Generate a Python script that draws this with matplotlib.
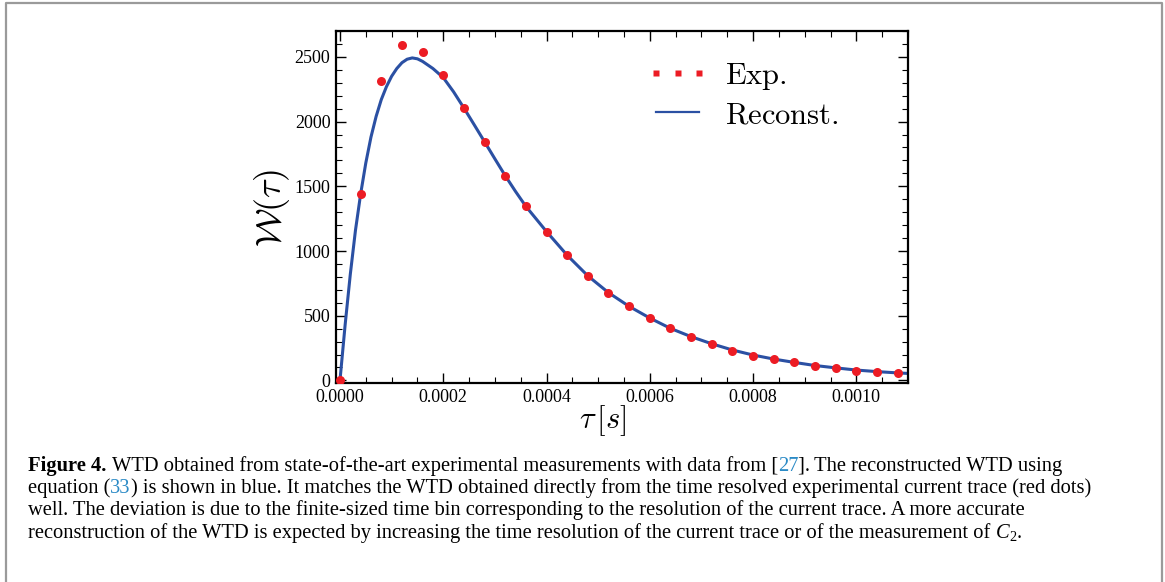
import numpy as np
import matplotlib.pyplot as plt
from matplotlib.lines import Line2D
from matplotlib.ticker import MultipleLocator, FormatStrFormatter
from matplotlib.font_manager import FontProperties

plt.rcParams['mathtext.fontset'] = 'cm'
plt.rcParams['font.family'] = 'Liberation Serif'

# experimental WTD (red dots)
t_exp = [0.0, 0.00004, 0.00008, 0.00012, 0.00016, 0.00020, 0.00024, 0.00028,
         0.00032, 0.00036, 0.00040, 0.00044, 0.00048, 0.00052, 0.00056, 0.00060,
         0.00064, 0.00068, 0.00072, 0.00076, 0.00080, 0.00084, 0.00088, 0.00092,
         0.00096, 0.00100, 0.00104, 0.00108]
w_exp = [0, 1438, 2315, 2592, 2538, 2357, 2105, 1844,
         1582, 1347, 1149, 967, 808, 678, 575, 482,
         403, 338, 285, 231, 192, 165, 139, 113,
         98, 75, 62, 60]

# reconstructed WTD (blue line)
t_rec = [0.0, 0.00001, 0.00002, 0.00003, 0.00004, 0.00005, 0.00006, 0.00007,
         0.00008, 0.00009, 0.00010, 0.00011, 0.00012, 0.00013, 0.00014, 0.00015,
         0.00016, 0.00018, 0.00020, 0.00022, 0.00024, 0.00026, 0.00028, 0.00030,
         0.00032, 0.00034, 0.00036, 0.00040, 0.00044, 0.00048, 0.00052, 0.00056,
         0.00060, 0.00064, 0.00068, 0.00072, 0.00076, 0.00080, 0.00084, 0.00088,
         0.00092, 0.00096, 0.00100, 0.00104, 0.00108, 0.00110]
w_rec = [0, 430, 820, 1160, 1440, 1680, 1880, 2040,
         2170, 2270, 2350, 2410, 2455, 2482, 2492, 2485,
         2465, 2410, 2340, 2230, 2105, 1975, 1844, 1712,
         1582, 1460, 1345, 1150, 967, 808, 678, 572,
         482, 402, 338, 283, 235, 196, 165, 139,
         115, 97, 80, 68, 58, 54]

W, H = 1165, 582
fig = plt.figure(figsize=(W / 100, H / 100), dpi=100)

# frame around the whole figure
fig.add_artist(Line2D([6 / W, 6 / W, 1162 / W, 1162 / W], [0, 1 - 3 / H, 1 - 3 / H, 0],
                      transform=fig.transFigure, color='#9a9a9a', lw=1.6))

ax = fig.add_axes([336 / W, 1 - 383 / H, (908 - 336) / W, (383 - 31) / H])
ax.plot(t_rec, w_rec, color='#2b50a3', lw=2.2, zorder=2)
ax.plot(t_exp, w_exp, 'o', color='#ec1c24', ms=6.5, mec='none', zorder=3)

ax.set_xlim(-0.0000077, 0.0011)
ax.set_ylim(-20, 2700)
ax.xaxis.set_major_locator(MultipleLocator(0.0002))
ax.xaxis.set_minor_locator(MultipleLocator(0.00005))
ax.yaxis.set_major_locator(MultipleLocator(500))
ax.yaxis.set_minor_locator(MultipleLocator(100))
ax.xaxis.set_major_formatter(FormatStrFormatter('%.4f'))
ax.yaxis.set_major_formatter(FormatStrFormatter('%d'))
ax.tick_params(which='both', direction='in', top=True, right=True, labelsize=13, pad=4)
ax.tick_params(which='major', length=7, width=1)
ax.tick_params(which='minor', length=4, width=0.8)
for sp in ax.spines.values():
    sp.set_linewidth(1.6)

fig.text(603 / W, 1 - 428 / H, r'$\tau\,[s]$', fontsize=22, ha='center', va='baseline')
fig.text(272 / W, 1 - 208 / H, r'$\mathcal{W}(\tau)$', fontsize=26, ha='center', va='center',
         rotation=90)

# legend
h_exp = Line2D([], [], marker='s', ls='none', color='#ec1c24', ms=4, mec='none')
h_rec = Line2D([], [], color='#2b50a3', lw=1.6)
ax.legend([h_exp, h_rec], [r'$\mathrm{Exp.}$', r'$\mathrm{Reconst.}$'], numpoints=3,
          loc='upper left', bbox_to_anchor=(647 / W, 1 - 61 / H), bbox_transform=fig.transFigure,
          frameon=False, fontsize=22, handlelength=2.0, handletextpad=0.55,
          labelspacing=0.3, borderpad=0, borderaxespad=0)

# caption
renderer = fig.canvas.get_renderer()
cap_fs = 14.8
fp_n = FontProperties(family='Liberation Serif', size=cap_fs)
fp_b = FontProperties(family='Liberation Serif', size=cap_fs, weight='bold')
fp_i = FontProperties(family='Liberation Serif', size=cap_fs, style='italic')
fp_s = FontProperties(family='Liberation Serif', size=cap_fs * 0.7)
link = '#2a8ac6'


def width(s, fp):
    w1 = renderer.get_text_width_height_descent(s + '|', fp, ismath=False)[0]
    w2 = renderer.get_text_width_height_descent('|', fp, ismath=False)[0]
    return w1 - w2


def draw_line(segments, y):
    x = 28
    for s, fp, color, dy in segments:
        fig.text(x / W, 1 - (y + dy) / H, s, fontproperties=fp, color=color,
                 ha='left', va='baseline')
        x += width(s, fp)


lines = [
    [('Figure 4. ', fp_b, 'black', 0),
     ('WTD obtained from state-of-the-art experimental measurements with data from [', fp_n, 'black', 0),
     ('27', fp_n, link, 0),
     ('].\u2009The reconstructed WTD using', fp_n, 'black', 0)],
    [('equation (', fp_n, 'black', 0),
     ('33', fp_n, link, 0),
     (') is shown in blue. It matches the WTD obtained directly from the time resolved '
      'experimental current trace (red dots)', fp_n, 'black', 0)],
    [('well. The deviation is due to the finite-sized time bin corresponding to the resolution '
      'of the current trace. A more accurate', fp_n, 'black', 0)],
    [('reconstruction of the WTD is expected by increasing the time resolution of the current '
      'trace or of the measurement of ', fp_n, 'black', 0),
     ('C', fp_i, 'black', 0),
     ('2', fp_s, 'black', 3),
     ('.', fp_n, 'black', 0)],
]
for i, segs in enumerate(lines):
    draw_line(segs, 471 + 22.2 * i)

fig.savefig('out.png', dpi=100)
